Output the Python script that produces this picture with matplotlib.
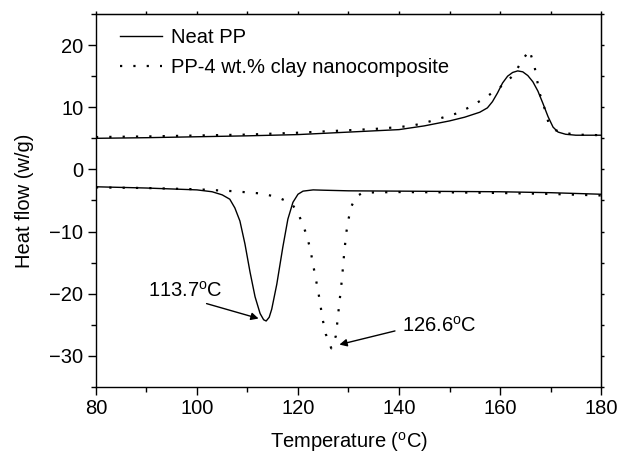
import matplotlib
matplotlib.use("Agg")
import matplotlib.pyplot as plt
from matplotlib.ticker import MultipleLocator

plt.rcParams['font.family'] = ['Liberation Sans', 'DejaVu Sans']
plt.rcParams['mathtext.fontset'] = 'custom'
plt.rcParams['mathtext.rm'] = 'Liberation Sans'

# Neat PP heating
neat_heat_T = [80, 90, 100, 110, 120, 130, 140, 145, 150, 153, 156, 157.5, 158.5, 159.5,
               160.5, 161.5, 162.5, 163.5, 164.5, 165.5, 166.5, 167.5, 168.5, 169.5,
               170.5, 171.5, 173, 175, 180]
neat_heat_v = [5.0, 5.1, 5.25, 5.4, 5.6, 6.0, 6.4, 7.0, 7.8, 8.4, 9.2, 9.9, 10.9, 12.3,
               13.9, 15.0, 15.6, 15.85, 15.7, 15.1, 14.1, 12.6, 10.6, 8.5,
               6.8, 6.0, 5.65, 5.5, 5.5]
# Neat PP cooling
neat_cool_T = [80, 85, 90, 95, 100, 103, 105, 106.5, 107.5, 108.5, 109.5, 110.5, 111.5,
               112.5, 113.2, 113.7, 114.3, 114.8, 115.8, 117, 118, 119, 120, 121, 123,
               125, 130, 140, 150, 160, 170, 180]
neat_cool_v = [-2.8, -2.9, -3.0, -3.15, -3.3, -3.6, -4.1, -4.8, -6.2, -8.3, -12.0, -16.5,
               -20.5, -23.2, -24.2, -24.4, -23.8, -22.5, -18.5, -12.5, -8.0, -5.3, -4.0,
               -3.5, -3.3, -3.35, -3.45, -3.5, -3.55, -3.6, -3.75, -4.0]
# PP-4 wt.% clay heating
clay_heat_T = [80, 90, 100, 110, 120, 130, 135, 140, 143, 146, 148.5, 151.4, 154.2, 157,
               160, 162.6, 164.3, 165.8, 166.8, 167.3, 167.9, 168.9, 169.6, 171, 172.5,
               175, 180]
clay_heat_v = [5.2, 5.3, 5.45, 5.6, 5.9, 6.3, 6.5, 6.8, 7.1, 7.7, 8.3, 9.0, 10.1, 11.5,
               13.2, 15.1, 17.4, 19.2, 16.7, 14.5, 12.1, 9.6, 7.5, 6.3, 5.9,
               5.6, 5.5]
# PP-4 wt.% clay cooling
clay_cool_T = [80, 90, 100, 107, 113, 116, 118, 119, 120, 120.5, 121.6, 122.4, 123.4, 124,
               124.9, 125.5, 126.6, 127.5, 128.1, 128.7, 129.2, 129.6, 130, 130.6, 131.5,
               132.6, 135, 140, 150, 160, 170, 180]
clay_cool_v = [-2.9, -3.0, -3.2, -3.5, -3.9, -4.5, -5.2, -5.8, -7.0, -8.0, -10.3, -12.7,
               -17.1, -19.6, -24.2, -26.5, -28.8, -26.8, -22.2, -17.7, -13.0, -10.0, -8.0,
               -5.9, -4.4, -3.85, -3.7, -3.65, -3.7, -3.8, -3.95, -4.2]

labels = ['Neat PP', 'PP-4 wt.% clay nanocomposite']
peak_labels = ['113.7$\\mathregular{^{o}}$C', '126.6$\\mathregular{^{o}}$C']

FS = 14.5
fig = plt.figure(figsize=(6.19, 4.53), dpi=100)
ax = fig.add_axes([0.155, 0.146, 0.816, 0.823])

dot = (0, (1, 5))
l1, = ax.plot(neat_heat_T, neat_heat_v, color='black', lw=1.0)
ax.plot(neat_cool_T, neat_cool_v, color='black', lw=1.0)
l2, = ax.plot(clay_heat_T, clay_heat_v, color='black', lw=1.6, linestyle=dot)
ax.plot(clay_cool_T, clay_cool_v, color='black', lw=1.6, linestyle=dot)

ax.set_xlim(80, 180)
ax.set_ylim(-35, 25)
ax.xaxis.set_major_locator(MultipleLocator(20))
ax.xaxis.set_minor_locator(MultipleLocator(10))
ax.yaxis.set_major_locator(MultipleLocator(10))
ax.yaxis.set_minor_locator(MultipleLocator(5))
ax.tick_params(which='major', direction='out', length=6, width=1, labelsize=FS, pad=3)
ax.tick_params(which='minor', direction='out', length=3.5, width=1)
for s in ax.spines.values():
    s.set_linewidth(1.0)

# top / right small ticks
top = ax.secondary_xaxis('top')
top.xaxis.set_major_locator(MultipleLocator(10))
top.tick_params(direction='out', length=2, width=1, labeltop=False)
right = ax.secondary_yaxis('right')
right.yaxis.set_major_locator(MultipleLocator(5))
right.tick_params(direction='out', length=2, width=1, labelright=False)

ax.set_xlabel('Temperature ($\\mathregular{^{o}}$C)', fontsize=FS)
ax.set_ylabel('Heat flow (w/g)', fontsize=FS)
ax.xaxis.set_label_coords(0.5, -0.117)
ax.yaxis.set_label_coords(-0.123, 0.5)

ax.legend([l1, l2], labels, loc='upper left', bbox_to_anchor=(0.02, 1.0), frameon=False,
          fontsize=FS, handlelength=2.1, handletextpad=0.45, labelspacing=0.55,
          borderaxespad=0.3)

arrow = dict(arrowstyle='-|>', color='black', lw=1.0, mutation_scale=11,
             shrinkA=0, shrinkB=0)
ax.text(90.3, -19.6, peak_labels[0], fontsize=FS, ha='left', va='center')
ax.annotate('', xy=(112.2, -24.0), xytext=(101.9, -21.6), arrowprops=arrow)
ax.text(140.5, -25.1, peak_labels[1], fontsize=FS, ha='left', va='center')
ax.annotate('', xy=(128.2, -28.2), xytext=(139.2, -26.0), arrowprops=arrow)

fig.savefig('out.png', dpi=100)
